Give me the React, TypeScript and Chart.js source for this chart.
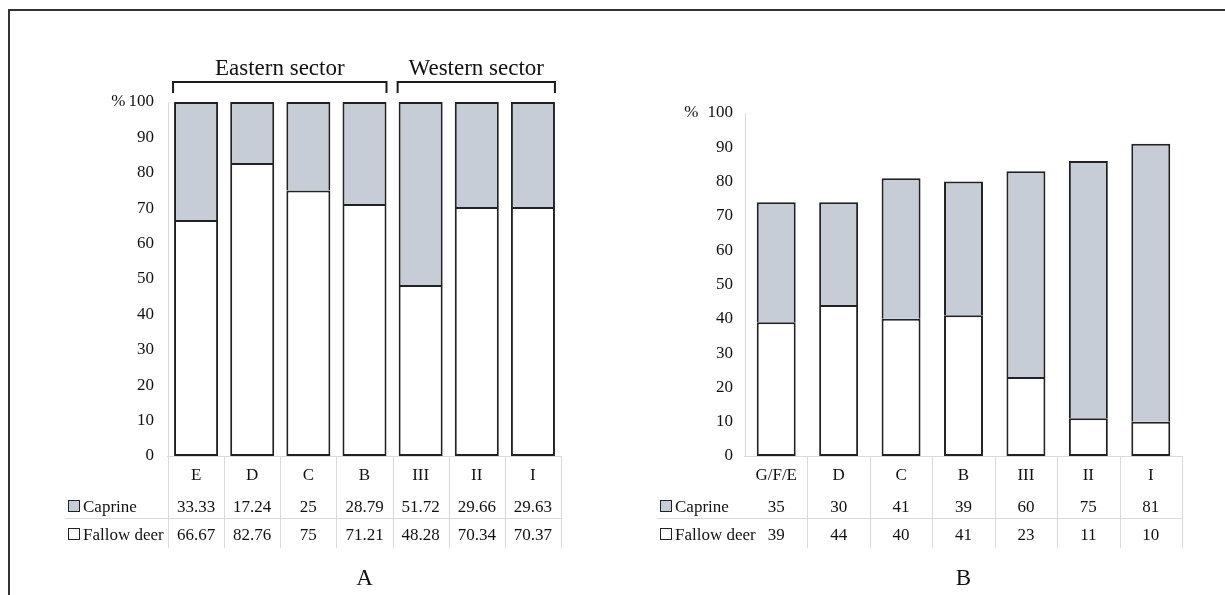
import React, { useEffect, useRef } from 'react';
import { Chart, registerables } from 'chart.js';

Chart.register(...registerables);

// ---------- data ----------
const categoriesA = ['E', 'D', 'C', 'B', 'III', 'II', 'I'];
const caprineA = [33.33, 17.24, 25, 28.79, 51.72, 29.66, 29.63];
const fallowA = [66.67, 82.76, 75, 71.21, 48.28, 70.34, 70.37];

const categoriesB = ['G/F/E', 'D', 'C', 'B', 'III', 'II', 'I'];
const caprineB = [35, 30, 41, 39, 60, 75, 81];
const fallowB = [39, 44, 40, 41, 23, 11, 10];

const seriesNames = ['Caprine', 'Fallow deer'];
const sectorsA = [
  { label: 'Eastern sector', from: 0, to: 3 },
  { label: 'Western sector', from: 4, to: 6 },
];

// ---------- styles ----------
const CAPRINE_FILL = '#c6cdd6';
const EDGE = '#222222';
const GRID = '#d9d9d9';
const TEXT = '#111111';
const FONT = "'Liberation Serif', 'Times New Roman', serif";

type Sector = { label: string; from: number; to: number };
type PanelCfg = {
  categories: string[];
  caprine: number[];
  fallow: number[];
  canvasLeft: number;
  canvasWidth: number;
  plotLeft: number;
  plotRight: number;
  plotTop: number;
  plotBottom: number;
  barPct: number;
  tickPad: number;
  pctGap: number;
  legendX: number;
  sepLeft: number;
  leftLine: boolean;
  letter: string;
  sectors?: Sector[];
};

const H = 595;
const Y_AXIS_W = 40;

function extrasPlugin(cfg: PanelCfg) {
  return {
    id: 'tableExtras',
    beforeDatasetsDraw(chart: any) {
      const ctx = chart.ctx;
      const { left, right } = chart.chartArea;
      const y0 = Math.round(chart.scales.y.getPixelForValue(0)) + 0.5;
      ctx.save();
      ctx.strokeStyle = GRID;
      ctx.lineWidth = 1;
      ctx.beginPath();
      ctx.moveTo(left - 1, y0);
      ctx.lineTo(right + 1, y0);
      ctx.stroke();
      ctx.restore();
    },
    afterDraw(chart: any) {
      const ctx = chart.ctx as CanvasRenderingContext2D;
      const xs = chart.scales.x;
      const ys = chart.scales.y;
      const { left, right } = chart.chartArea;
      const n = cfg.categories.length;
      const colW = xs.getPixelForValue(1) - xs.getPixelForValue(0);
      const y0 = ys.getPixelForValue(0);
      const off = cfg.canvasLeft;

      ctx.save();
      // "%" unit next to the top tick label
      ctx.fillStyle = TEXT;
      ctx.font = `17px ${FONT}`;
      ctx.textBaseline = 'middle';
      ctx.textAlign = 'right';
      const w100 = ctx.measureText('100').width;
      ctx.fillText('%', left - cfg.tickPad - w100 - cfg.pctGap, ys.getPixelForValue(100));

      // table grid lines
      ctx.strokeStyle = GRID;
      ctx.lineWidth = 1;
      for (let i = cfg.leftLine ? 0 : 1; i <= n; i++) {
        const x = Math.round(xs.getPixelForValue(i) - colW / 2) + 0.5;
        ctx.beginPath();
        ctx.moveTo(x, y0);
        ctx.lineTo(x, 548);
        ctx.stroke();
      }
      ctx.beginPath();
      ctx.moveTo(cfg.sepLeft - off, 518.5);
      ctx.lineTo(right, 518.5);
      ctx.stroke();

      // table texts
      ctx.fillStyle = TEXT;
      ctx.font = `17px ${FONT}`;
      ctx.textAlign = 'center';
      ctx.textBaseline = 'alphabetic';
      for (let i = 0; i < n; i++) {
        const cx = xs.getPixelForValue(i);
        ctx.fillText(cfg.categories[i], cx, 480);
        ctx.fillText(String(cfg.caprine[i]), cx, 512);
        ctx.fillText(String(cfg.fallow[i]), cx, 540);
      }

      // legend keys in table
      const lx = cfg.legendX - off;
      const rows = [
        { name: seriesNames[0], fill: CAPRINE_FILL, base: 512 },
        { name: seriesNames[1], fill: '#ffffff', base: 540 },
      ];
      rows.forEach((r) => {
        ctx.fillStyle = r.fill;
        ctx.fillRect(lx, r.base - 12, 12, 12);
        ctx.strokeStyle = EDGE;
        ctx.lineWidth = 1;
        ctx.strokeRect(lx + 0.5, r.base - 11.5, 11, 11);
        ctx.fillStyle = TEXT;
        ctx.textAlign = 'left';
        ctx.fillText(r.name, lx + 15, r.base);
      });

      // panel letter
      ctx.textAlign = 'center';
      ctx.font = `23px ${FONT}`;
      ctx.fillText(cfg.letter, (left + right) / 2, 585);

      // sector brackets
      if (cfg.sectors) {
        const meta = chart.getDatasetMeta(0);
        cfg.sectors.forEach((s) => {
          const a: any = meta.data[s.from];
          const b: any = meta.data[s.to];
          const x1 = a.x - a.width / 2 - 1;
          const x2 = b.x + b.width / 2;
          ctx.strokeStyle = '#1a1a1a';
          ctx.lineWidth = 2;
          ctx.beginPath();
          ctx.moveTo(x1, 93);
          ctx.lineTo(x1, 82);
          ctx.lineTo(x2, 82);
          ctx.lineTo(x2, 93);
          ctx.stroke();
          ctx.fillStyle = TEXT;
          ctx.font = `23px ${FONT}`;
          ctx.textAlign = 'center';
          ctx.fillText(s.label, (x1 + x2) / 2, 75);
        });
      }
      ctx.restore();
    },
  };
}

function Panel({ cfg }: { cfg: PanelCfg }) {
  const ref = useRef<HTMLCanvasElement>(null);
  useEffect(() => {
    const canvas = ref.current!;
    const pl = cfg.plotLeft - cfg.canvasLeft;
    const pr = cfg.plotRight - cfg.canvasLeft;
    const chart = new Chart(canvas, {
      type: 'bar',
      data: {
        labels: cfg.categories,
        datasets: [
          {
            label: seriesNames[1],
            data: cfg.fallow,
            backgroundColor: '#ffffff',
            borderColor: EDGE,
            borderWidth: 2,
            borderSkipped: false,
            categoryPercentage: 1,
            barPercentage: cfg.barPct,
          },
          {
            label: seriesNames[0],
            data: cfg.caprine,
            backgroundColor: CAPRINE_FILL,
            borderColor: EDGE,
            borderWidth: 2,
            borderSkipped: 'start',
            categoryPercentage: 1,
            barPercentage: cfg.barPct,
          },
        ],
      },
      options: {
        responsive: false,
        animation: false,
        devicePixelRatio: 1,
        layout: {
          padding: {
            left: pl - Y_AXIS_W,
            right: cfg.canvasWidth - pr,
            top: cfg.plotTop,
            bottom: H - cfg.plotBottom,
          },
        },
        plugins: { legend: { display: false }, tooltip: { enabled: false } },
        scales: {
          x: { stacked: true, display: false, offset: true },
          y: {
            stacked: true,
            min: 0,
            max: 100,
            grid: { display: false, drawTicks: false },
            border: { display: true, color: GRID, width: 1 },
            ticks: {
              stepSize: 10,
              padding: cfg.tickPad,
              color: TEXT,
              font: { size: 17, family: FONT },
            },
            afterFit: (s: any) => {
              s.width = Y_AXIS_W;
            },
          },
        },
      },
      plugins: [extrasPlugin(cfg) as any],
    });
    return () => chart.destroy();
  }, [cfg]);
  return (
    <canvas
      ref={ref}
      width={cfg.canvasWidth}
      height={H}
      style={{
        position: 'absolute',
        left: cfg.canvasLeft,
        top: 0,
        width: cfg.canvasWidth,
        height: H,
        display: 'block',
      }}
    />
  );
}

const panelA: PanelCfg = {
  categories: categoriesA,
  caprine: caprineA,
  fallow: fallowA,
  canvasLeft: 0,
  canvasWidth: 612,
  plotLeft: 168,
  plotRight: 561,
  plotTop: 102,
  plotBottom: 456,
  barPct: 0.784,
  tickPad: 14,
  pctGap: 3,
  legendX: 68,
  sepLeft: 65,
  leftLine: true,
  letter: 'A',
  sectors: sectorsA,
};

const panelB: PanelCfg = {
  categories: categoriesB,
  caprine: caprineB,
  fallow: fallowB,
  canvasLeft: 612,
  canvasWidth: 613,
  plotLeft: 745,
  plotRight: 1182,
  plotTop: 113,
  plotBottom: 456,
  barPct: 0.624,
  tickPad: 12,
  pctGap: 9,
  legendX: 660,
  sepLeft: 657,
  leftLine: false,
  letter: 'B',
};

export default function App() {
  return (
    <div
      style={{
        position: 'fixed',
        left: 0,
        top: 0,
        width: 1225,
        height: 595,
        overflow: 'hidden',
        background: '#ffffff',
      }}
    >
      <div
        style={{
          position: 'absolute',
          left: 8,
          top: 9,
          width: 1400,
          height: 800,
          borderTop: '2px solid #333',
          borderLeft: '2px solid #333',
        }}
      />
      <Panel cfg={panelA} />
      <Panel cfg={panelB} />
    </div>
  );
}
